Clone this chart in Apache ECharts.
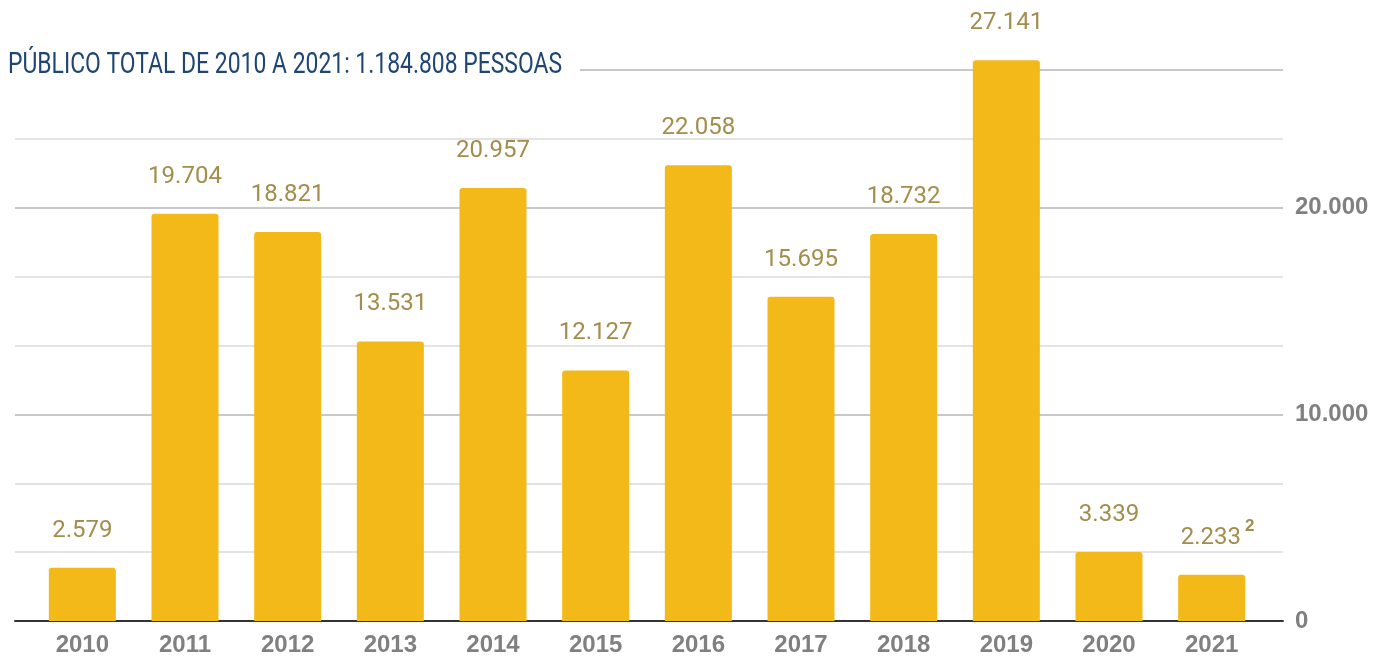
<!DOCTYPE html>
<html>
<head>
<meta charset="utf-8">
<script src="https://cdn.jsdelivr.net/npm/echarts@6/dist/echarts.min.js"></script>
<style>
  html, body { margin: 0; padding: 0; background: #fff; }
  #chart { width: 1373px; height: 657px; }
</style>
</head>
<body>
<div id="chart"></div>
<script>
// dados
const years = ['2010', '2011', '2012', '2013', '2014', '2015', '2016', '2017', '2018', '2019', '2020', '2021']
const publico = [2579, 19704, 18821, 13531, 20957, 12127, 22058, 15695, 18732, 27141, 3339, 2233]
const notas = { '2021': '2' }
const tituloTexto = 'PÚBLICO TOTAL DE 2010 A 2021: 1.184.808 PESSOAS'

const yMax = 80000 / 3
const yStep = 10000 / 3

const fmt = v => String(Math.round(v)).replace(/\B(?=(\d{3})+(?!\d))/g, '.')

const chart = echarts.init(document.getElementById('chart'))

const axisFont = {
  fontFamily: '"Liberation Sans", Arial, sans-serif',
  fontWeight: 'bold',
  fontSize: 24,
  color: '#808080'
}

// barras com nota de rodapé ganham um rótulo mais alto (espaço p/ o sobrescrito)
const barData = publico.map((v, i) => notas[years[i]] ? { value: v, label: { distance: 17 } } : v)

chart.setOption({
  animation: false,
  backgroundColor: '#fff',
  graphic: [
    // fundo branco atrás do título (corta a linha de grade do topo)
    { type: 'rect', z: 50, shape: { x: 0, y: 50, width: 580, height: 36 }, style: { fill: '#fff' } },
    {
      type: 'text', z: 51, x: 8, y: 66, scaleX: 0.79,
      style: {
        text: tituloTexto,
        font: '29px Roboto, sans-serif',
        fill: '#1f4673',
        verticalAlign: 'middle'
      }
    }
  ],
  grid: [
    { left: 15, right: 90, top: 70, bottom: 36 },
    { left: 31, right: 110, top: 70, bottom: 36 }
  ],
  xAxis: [
    {
      gridIndex: 0, type: 'value', min: 0, max: 1,
      axisLine: { lineStyle: { color: '#333', width: 2 } },
      axisTick: { show: false }, axisLabel: { show: false }, splitLine: { show: false }
    },
    {
      gridIndex: 1, type: 'category', data: years,
      axisLine: { show: false },
      axisTick: { show: false },
      axisLabel: Object.assign({ margin: 12 }, axisFont)
    }
  ],
  yAxis: [
    {
      gridIndex: 0, type: 'value', position: 'right',
      min: 0, max: yMax, interval: yStep,
      axisLine: { show: false },
      axisTick: { show: false },
      splitLine: { lineStyle: { color: ['#c8c8c8', '#e3e3e3', '#e3e3e3'], width: 2 } },
      axisLabel: Object.assign({
        margin: 12,
        formatter: v => (Math.round(v) % 10000 === 0 ? fmt(v) : '')
      }, axisFont)
    },
    { gridIndex: 1, type: 'value', min: 0, max: yMax, show: false }
  ],
  series: [{
    type: 'bar',
    xAxisIndex: 1,
    yAxisIndex: 1,
    data: barData,
    barWidth: 67,
    clip: false,
    itemStyle: { color: '#f3b918', borderRadius: [3, 3, 0, 0] },
    label: {
      show: true,
      position: 'top',
      distance: 25,
      fontFamily: 'Roboto, sans-serif',
      fontSize: 24,
      color: '#a38d4c',
      formatter: p => notas[p.name]
        ? '{pad|}{v|' + fmt(p.value) + '}{sup|' + notas[p.name] + '}'
        : fmt(p.value),
      rich: {
        pad: { width: 12 },
        v: {
          fontFamily: 'Roboto, sans-serif',
          fontSize: 24,
          color: '#a38d4c',
          lineHeight: 40
        },
        sup: {
          fontFamily: '"Liberation Sans", Arial, sans-serif',
          fontWeight: 'bold',
          fontSize: 17,
          color: '#a38d4c',
          verticalAlign: 'top',
          padding: [0, 0, 0, 4]
        }
      }
    }
  }]
})
</script>
</body>
</html>
